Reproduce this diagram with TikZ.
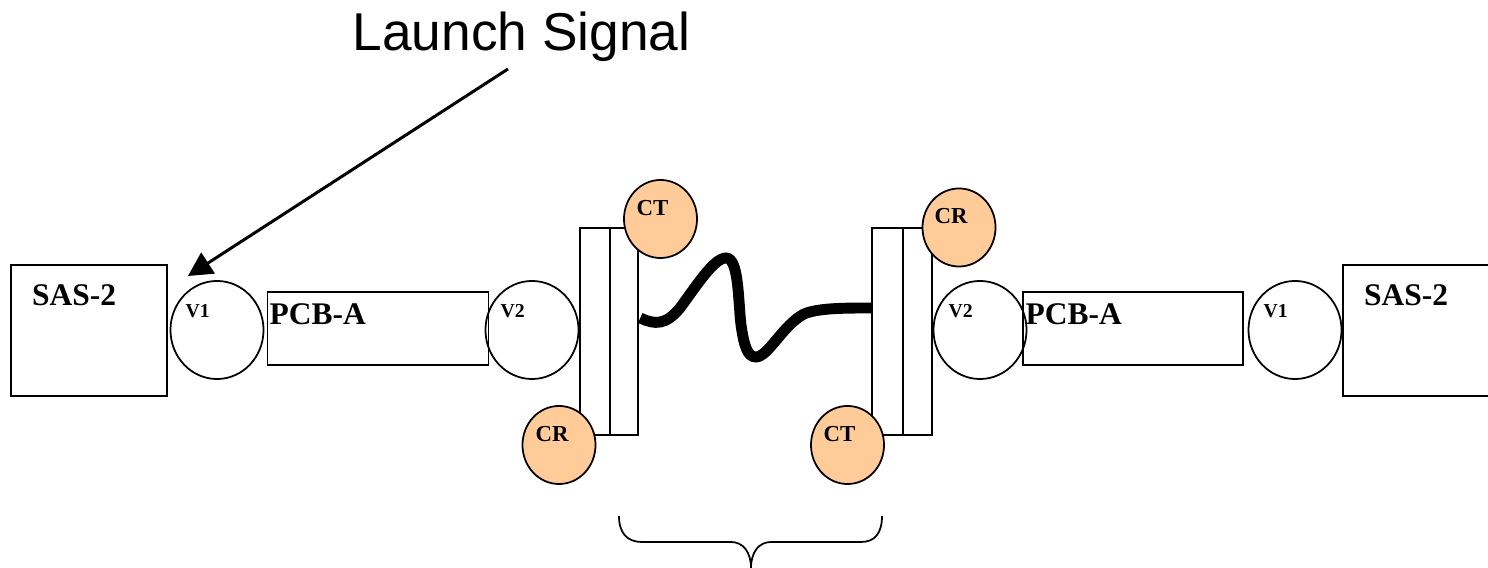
\documentclass[tikz,border=0pt]{standalone}
\usepackage{fontspec}
\setmainfont{Liberation Serif}
\newfontfamily\launchfont{Liberation Sans}
\usetikzlibrary{arrows.meta, shapes.geometric}
\definecolor{contactfill}{HTML}{FFCC99}
\tikzset{
    partbox/.style 2 args={draw, rectangle, inner sep=0pt, outer sep=0pt, line width=0.55pt, minimum width=#1*0.01cm, minimum height=#2*0.01cm},
    viaring/.style={draw, ellipse, inner sep=0pt, line width=0.5pt, minimum width=0.93cm, minimum height=0.98cm},
    contact/.style={draw, ellipse, fill=contactfill, inner sep=0pt, line width=0.5pt, minimum width=0.73cm, minimum height=0.78cm},
    tag/.style={anchor=base west, inner sep=0pt, font=\bfseries\fontsize{#1}{#1}\selectfont},
}

\begin{document}
\begin{tikzpicture}[x=0.01cm, y=-0.01cm]
\useasboundingbox (0,0) rectangle (1488,568);
\clip (0,0) rectangle (1488,568);

\foreach \nm/\cx/\cy/\w/\h in {sasL/89/330.5/156/131, sasR/1422/330.5/158/131, pcbL/378/328.5/221/73, pcbR/1133/328.5/220/73} {
    \node[partbox={\w}{\h}] (\nm) at (\cx,\cy) {};
}
\foreach \nm/\cx in {viaLa/217, viaLb/532, viaRb/980, viaRa/1295} {
    \node[viaring] (\nm) at (\cx,330) {};
}

\node[partbox={30.5}{207}] (jackLa) at (595,331.5) {};
\node[partbox={28}{207}, anchor=west] (jackLb) at (jackLa.east) {};
\node[partbox={31}{207}] (jackRa) at (887.5,331.5) {};
\node[partbox={29}{207}, anchor=west] (jackRb) at (jackRa.east) {};

\foreach \nm/\cx/\cy in {ctL/660.5/219, crL/559/445, crR/959/227.5, ctR/847.5/445} {
    \node[contact] (\nm) at (\cx,\cy) {};
}

\coordinate (cableA) at ([xshift=0.02cm]jackLb.east |- 0,318);
\coordinate (cableB) at (jackRa.west |- 0,308);
\draw[line width=3.1pt] (cableA) .. controls (655,325) and (666,325) .. (680,308)
    .. controls (697,285) and (714,258) .. (726,258)
    .. controls (739,258) and (738,300) .. (741,325)
    .. controls (744,345) and (747,357) .. (756,357)
    .. controls (768,357) and (783,325) .. (804,314)
    .. controls (818,308) and (845,308) .. (cableB);

\node[anchor=base west, inner sep=0pt, font=\launchfont\fontsize{15.15}{15.15}\selectfont] (launch) at (352,51) {Launch Signal};
\coordinate (launchA) at (508,69);
\coordinate (launchB) at (188,276);
\draw[line width=0.85pt, -{Triangle[length=6.8pt, width=7pt]}] (launchA) -- (launchB);

\foreach \nm/\txt/\x/\y/\s in {tagA/SAS-2/31.5/306/8.95, tagB/SAS-2/1363.5/306/8.95, tagC/PCB-A/269/324.5/8.95, tagD/PCB-A/1025/324.5/8.95,
    tagE/V1/185/318/5.6, tagF/V2/500/318/5.6, tagG/V2/948/318/5.6, tagH/V1/1263/318/5.6,
    tagI/CT/636/216/6.5, tagJ/CR/934/224/6.5, tagK/CR/535/442/6.5, tagL/CT/823/442/6.5} {
    \node[tag=\s] (\nm) at (\x,\y) {\txt};
}

\draw[line width=0.5pt] (619,516) .. controls (619,533) and (627,542) .. (642,542) -- (731,542)
    .. controls (743,542) and (751,552) .. (751,568)
    .. controls (751,552) and (759,542) .. (771,542) -- (861,542)
    .. controls (875,542) and (882,533) .. (882,516);
\end{tikzpicture}
\end{document}
